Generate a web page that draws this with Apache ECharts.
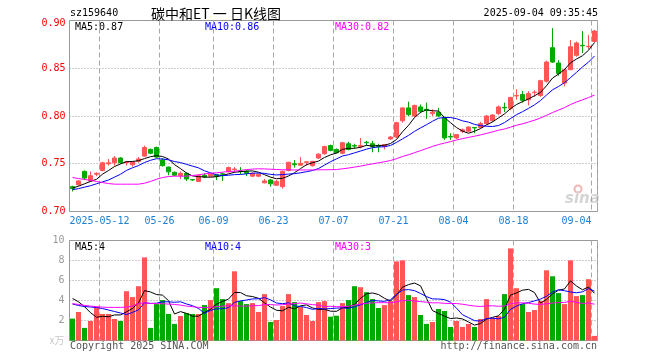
<!DOCTYPE html>
<html><head><meta charset="utf-8">
<script src="https://cdn.jsdelivr.net/npm/echarts@6/dist/echarts.min.js"></script>
<style>html,body{margin:0;padding:0;background:#fff}#c{width:660px;height:360px}</style>
</head><body><div id="c"></div>
<script>
const dates = ['2025-04-30','2025-05-06','2025-05-07','2025-05-08','2025-05-09','2025-05-12','2025-05-13','2025-05-14','2025-05-15','2025-05-16',
'2025-05-19','2025-05-20','2025-05-21','2025-05-22','2025-05-23','2025-05-26','2025-05-27','2025-05-28','2025-05-29','2025-05-30',
'2025-06-03','2025-06-04','2025-06-05','2025-06-06','2025-06-09','2025-06-10','2025-06-11','2025-06-12','2025-06-13','2025-06-16',
'2025-06-17','2025-06-18','2025-06-19','2025-06-20','2025-06-23','2025-06-24','2025-06-25','2025-06-26','2025-06-27','2025-06-30',
'2025-07-01','2025-07-02','2025-07-03','2025-07-04','2025-07-07','2025-07-08','2025-07-09','2025-07-10','2025-07-11','2025-07-14',
'2025-07-15','2025-07-16','2025-07-17','2025-07-18','2025-07-21','2025-07-22','2025-07-23','2025-07-24','2025-07-25','2025-07-28',
'2025-07-29','2025-07-30','2025-07-31','2025-08-01','2025-08-04','2025-08-05','2025-08-06','2025-08-07','2025-08-08','2025-08-11',
'2025-08-12','2025-08-13','2025-08-14','2025-08-15','2025-08-18','2025-08-19','2025-08-20','2025-08-21','2025-08-22','2025-08-25',
'2025-08-26','2025-08-27','2025-08-28','2025-08-29','2025-09-01','2025-09-02','2025-09-03','2025-09-04'];

const tickDates = ['2025-05-12','2025-05-26','2025-06-09','2025-06-23','2025-07-07','2025-07-21','2025-08-04','2025-08-18','2025-09-04'];
const tickLabels = ['2025-05-12','05-26','06-09','06-23','07-07','07-21','08-04','08-18','09-04'];
const priceTicks = [0.70, 0.75, 0.80, 0.85, 0.90];
const volTicks = [0, 2, 4, 6, 8, 10];

const open = [0.726,0.728,0.742,0.732,0.739,0.743,0.750,0.751,0.756,0.751,
0.749,0.7525,0.758,0.765,0.767,0.754,0.7465,0.741,0.7375,0.740,
0.7335,0.7315,0.738,0.737,0.7385,0.7395,0.7415,0.744,0.7425,0.742,
0.737,0.737,0.730,0.733,0.7275,0.726,0.743,0.750,0.7485,0.7515,
0.748,0.756,0.7605,0.769,0.765,0.761,0.771,0.769,0.768,0.7725,
0.771,0.769,0.768,0.776,0.778,0.795,0.8085,0.800,0.8095,0.807,
0.8025,0.804,0.7985,0.7785,0.777,0.784,0.784,0.788,0.788,0.792,
0.795,0.8025,0.809,0.808,0.821,0.8225,0.817,0.8245,0.8215,0.8365,
0.8715,0.8555,0.8345,0.8485,0.8635,0.874,0.8725,0.878];
const close = [0.724,0.732,0.735,0.7375,0.740,0.751,0.751,0.756,0.751,0.752,
0.752,0.755,0.767,0.761,0.757,0.748,0.7415,0.738,0.740,0.734,
0.733,0.7375,0.736,0.739,0.737,0.739,0.746,0.7445,0.742,0.740,
0.740,0.739,0.732,0.729,0.7315,0.742,0.7515,0.749,0.7505,0.752,
0.7525,0.760,0.768,0.764,0.7615,0.772,0.765,0.7685,0.769,0.772,
0.768,0.768,0.770,0.778,0.793,0.8085,0.8015,0.811,0.805,0.806,
0.804,0.800,0.777,0.778,0.7805,0.7855,0.7885,0.7875,0.792,0.800,
0.801,0.8095,0.8085,0.8195,0.8215,0.8165,0.8235,0.825,0.837,0.8565,
0.8565,0.8445,0.8485,0.8725,0.8765,0.8735,0.873,0.889];
const low = [0.721,0.727,0.733,0.731,0.737,0.742,0.748,0.748,0.750,0.748,
0.747,0.751,0.757,0.760,0.756,0.747,0.738,0.737,0.734,0.732,
0.732,0.731,0.735,0.736,0.733,0.732,0.741,0.741,0.739,0.737,
0.736,0.736,0.7295,0.726,0.727,0.724,0.742,0.746,0.748,0.748,
0.747,0.755,0.7595,0.763,0.761,0.760,0.764,0.766,0.766,0.769,
0.762,0.762,0.765,0.775,0.777,0.793,0.800,0.799,0.803,0.797,
0.800,0.799,0.775,0.775,0.776,0.782,0.783,0.782,0.787,0.791,
0.794,0.801,0.804,0.806,0.817,0.814,0.811,0.820,0.820,0.835,
0.8555,0.842,0.831,0.848,0.862,0.866,0.870,0.877];
const high = [0.727,0.733,0.743,0.742,0.741,0.752,0.755,0.758,0.757,0.753,
0.752,0.757,0.769,0.766,0.768,0.756,0.747,0.742,0.742,0.741,
0.734,0.739,0.740,0.740,0.739,0.741,0.747,0.7465,0.7465,0.743,
0.741,0.740,0.734,0.734,0.733,0.743,0.752,0.754,0.757,0.7525,
0.753,0.761,0.769,0.770,0.766,0.773,0.773,0.771,0.777,0.774,
0.774,0.771,0.770,0.779,0.794,0.809,0.815,0.812,0.812,0.814,
0.807,0.8085,0.799,0.782,0.781,0.787,0.789,0.788,0.794,0.801,
0.802,0.811,0.814,0.820,0.828,0.826,0.826,0.827,0.838,0.858,
0.892,0.8585,0.849,0.8795,0.878,0.889,0.885,0.890];

const volume = [2.19,2.85,1.26,1.95,3.38,2.65,2.65,2.15,1.95,4.93,
4.34,5.43,8.31,1.26,3.64,4.04,2.65,1.66,2.45,2.75,
2.65,2.65,3.54,4.04,5.23,4.14,3.74,6.92,3.94,3.64,
3.74,2.85,4.64,1.85,2.05,3.44,4.64,3.84,3.34,2.55,
1.95,3.84,3.94,2.38,2.48,3.74,4.04,5.43,5.33,4.83,
4.14,3.25,3.54,3.94,7.91,8.01,4.54,4.34,2.55,1.66,
1.85,3.15,2.95,1.36,1.95,1.36,1.66,1.36,2.15,4.14,
2.25,2.45,4.64,9.21,5.23,3.64,2.85,3.05,3.94,7.02,
6.42,4.74,3.64,8.01,4.44,4.54,6.13,0.46];

const ma5 = [0.7245,0.7265,0.729,0.7315,0.7337,0.7391,0.7429,0.7471,0.7498,0.7522,
0.7524,0.7532,0.7554,0.7574,0.7584,0.7576,0.7549,0.7491,0.7449,0.7403,
0.7373,0.7365,0.7361,0.7359,0.7365,0.7377,0.7394,0.7411,0.7417,0.7423,
0.7425,0.7411,0.7386,0.736,0.7343,0.7347,0.7372,0.7406,0.7449,0.749,
0.7511,0.7528,0.7566,0.7593,0.7612,0.7651,0.7661,0.7662,0.7672,0.7693,
0.7685,0.7691,0.7694,0.7712,0.7754,0.7835,0.7902,0.7984,0.8038,0.8064,
0.8055,0.8052,0.7984,0.793,0.7879,0.7842,0.7819,0.784,0.7868,0.7907,
0.7938,0.798,0.8022,0.8077,0.812,0.8151,0.8179,0.8212,0.8247,0.8317,
0.8397,0.8439,0.8486,0.8557,0.8597,0.8631,0.8688,0.8769];
const ma10 = [0.7228,0.724,0.7255,0.727,0.729,0.731,0.733,0.736,0.739,0.743,
0.7458,0.7481,0.7513,0.7536,0.7553,0.755,0.7541,0.7523,0.7512,0.7494,
0.7475,0.7457,0.7426,0.7404,0.7384,0.7375,0.738,0.7386,0.7388,0.7394,
0.7401,0.7403,0.7399,0.7389,0.7383,0.7386,0.7392,0.7396,0.7405,0.7417,
0.7429,0.745,0.7486,0.7521,0.7551,0.7581,0.7595,0.7614,0.7633,0.7653,
0.7668,0.7676,0.7678,0.7692,0.7724,0.776,0.7797,0.7839,0.7875,0.7909,
0.7945,0.7977,0.7984,0.7984,0.7972,0.7949,0.7936,0.7912,0.7899,0.7893,
0.789,0.79,0.7931,0.7973,0.8014,0.8045,0.808,0.8117,0.8162,0.8219,
0.8274,0.8309,0.8349,0.8402,0.8457,0.8514,0.8564,0.8628];
const ma30 = [0.7356,0.7345,0.7335,0.7328,0.7314,0.7303,0.7293,0.7286,0.7286,0.7286,
0.7286,0.7286,0.7296,0.7314,0.7338,0.7356,0.7366,0.737,0.737,0.737,
0.7377,0.7384,0.7394,0.7401,0.7405,0.7412,0.7419,0.7422,0.743,0.7439,
0.7444,0.7447,0.7446,0.7443,0.744,0.7437,0.7437,0.7435,0.7435,0.7435,
0.7435,0.7437,0.7437,0.7438,0.7439,0.7447,0.7455,0.7465,0.7475,0.7488,
0.7499,0.751,0.7521,0.7534,0.7553,0.7576,0.7594,0.7616,0.7637,0.7659,
0.7681,0.7701,0.7716,0.7732,0.7749,0.7763,0.7776,0.7788,0.7802,0.7818,
0.7834,0.7851,0.7864,0.7883,0.7903,0.7918,0.7937,0.7956,0.7979,0.8007,
0.8036,0.8062,0.8088,0.812,0.8147,0.8169,0.8193,0.8219];

const vma5 = [4.2,3.87,3.38,2.78,2.326,2.418,2.378,2.556,2.556,2.866,
3.204,3.76,4.992,4.854,4.596,4.536,3.98,2.65,2.888,2.71,
2.432,2.432,2.808,3.126,3.622,3.92,4.138,4.814,4.794,4.476,
4.396,4.218,3.762,3.344,3.026,2.966,3.324,3.164,3.462,3.562,
3.264,3.104,3.124,2.932,2.918,3.276,3.316,3.614,4.204,4.674,
4.754,4.596,4.218,3.94,4.556,5.33,5.588,5.748,5.47,4.22,
2.988,2.71,2.432,2.194,2.252,2.154,1.856,1.538,1.696,2.134,
2.312,2.47,3.126,4.538,4.756,5.034,5.114,4.796,3.742,4.1,
4.656,5.034,5.152,5.966,5.45,5.074,5.352,4.716];
const vma10 = [3.65,3.5,3.4,3.35,3.3,3.2,3.05,2.9,2.75,2.596,
2.811,3.069,3.774,3.705,3.731,3.87,3.87,3.821,3.871,3.653,
3.484,3.206,2.729,3.007,3.166,3.176,3.285,3.811,3.96,4.049,
4.158,4.178,4.288,4.069,3.751,3.681,3.771,3.463,3.403,3.294,
3.115,3.214,3.144,3.197,3.24,3.27,3.21,3.369,3.568,3.796,
4.015,3.956,3.916,4.072,4.615,5.042,5.092,4.983,4.705,4.388,
4.159,4.149,4.09,3.832,3.236,2.571,2.283,1.985,1.945,2.193,
2.233,2.163,2.332,3.117,3.445,3.673,3.792,3.961,4.14,4.428,
4.845,5.074,4.974,4.854,4.775,4.865,5.193,4.934];
const vma30 = [3.68,3.61,3.51,3.44,3.38,3.34,3.31,3.31,3.31,3.34,
3.44,3.71,3.77,3.71,3.68,3.68,3.64,3.61,3.54,3.44,
3.38,3.31,3.28,3.31,3.38,3.44,3.48,3.47,3.45,3.433,
3.484,3.484,3.597,3.594,3.549,3.576,3.642,3.698,3.745,3.665,
3.586,3.533,3.387,3.424,3.386,3.376,3.422,3.548,3.644,3.713,
3.763,3.783,3.783,3.779,3.869,3.998,4.024,3.938,3.892,3.826,
3.763,3.773,3.717,3.7,3.697,3.628,3.528,3.446,3.406,3.459,
3.469,3.423,3.446,3.674,3.765,3.762,3.722,3.643,3.597,3.67,
3.746,3.795,3.799,3.934,3.819,3.703,3.756,3.627];

const UP = '#ff5555', DOWN = '#00aa00';
const MONO = '"DejaVu Sans Mono", "Liberation Mono", monospace';
const isTick = (idx) => tickDates.indexOf(dates[idx]) >= 0;

const chart = echarts.init(document.getElementById('c'), null, {renderer: 'canvas'});

function catAxis(gi, showLabel) {
  return {
    type: 'category', gridIndex: gi, data: dates, boundaryGap: true,
    axisLine: {show: false}, axisTick: {show: false, interval: isTick},
    axisLabel: {
      show: showLabel, interval: isTick, margin: 5,
      fontFamily: MONO, fontSize: 10, color: '#1a7fd6',
      formatter: function (v) {
        const k = tickDates.indexOf(v);
        const t = k >= 0 ? tickLabels[k] : '';
        return k === tickDates.length - 1 ? '{r|' + t + '}' : '{c|' + t + '}';
      },
      rich: {
        c: {padding: [0, 6, 0, 0], fontFamily: MONO, fontSize: 10, color: '#1a7fd6'},
        r: {padding: [0, 36, 0, 0], fontFamily: MONO, fontSize: 10, color: '#1a7fd6'}
      }
    },
    splitLine: {show: true, interval: isTick, lineStyle: {color: '#a8a8a8', type: [5, 3], width: 1}}
  };
}

function line(name, data, color, xi, yi) {
  return {name, type: 'line', xAxisIndex: xi, yAxisIndex: yi, data, symbol: 'none', silent: true,
    lineStyle: {color, width: 1}, itemStyle: {color}, z: 5};
}

const txt = (text, x, y, color, opts) => ({
  type: 'text', x, y, silent: true,
  style: Object.assign({text, fill: color, font: '10px ' + MONO, align: 'left', verticalAlign: 'middle'}, (opts || {}))
});

const topPrice = priceTicks[priceTicks.length - 1];

const option = {
  animation: false,
  backgroundColor: '#ffffff',
  grid: [
    {left: 69.5, top: 20.5, width: 528, height: 191, show: true, borderColor: '#999', borderWidth: 1},
    {left: 69.5, top: 240.5, width: 528, height: 100, show: true, borderColor: '#999', borderWidth: 1}
  ],
  xAxis: [catAxis(0, true), catAxis(1, false)],
  yAxis: [
    {type: 'value', gridIndex: 0, min: priceTicks[0], max: topPrice,
      interval: priceTicks[1] - priceTicks[0],
      axisLine: {show: false}, axisTick: {show: false},
      axisLabel: {color: '#ff0000', fontFamily: MONO, fontSize: 10, margin: 4,
        formatter: (v) => Math.abs(v - topPrice) < 1e-9 ? '{t|' + v.toFixed(2) + '}' : v.toFixed(2),
        rich: {t: {padding: [6, 0, 0, 0], color: '#ff0000', fontFamily: MONO, fontSize: 10}}},
      splitLine: {lineStyle: {color: '#9a9a9a', type: [1, 2]}}},
    {type: 'value', gridIndex: 1, min: volTicks[0], max: volTicks[volTicks.length - 1],
      interval: volTicks[1] - volTicks[0],
      axisLine: {show: false}, axisTick: {show: false},
      axisLabel: {color: '#999', fontFamily: MONO, fontSize: 10, margin: 5,
        formatter: (v) => v === 0 ? '{u|x万}' : String(v),
        rich: {u: {color: '#c8c8c8', fontFamily: '"Noto Sans CJK SC", sans-serif', fontSize: 10}}},
      splitLine: {lineStyle: {color: '#9a9a9a', type: [1, 2]}}}
  ],
  series: [
    {type: 'candlestick', xAxisIndex: 0, yAxisIndex: 0, barWidth: 4, silent: true,
      data: dates.map((d, i) => [open[i], close[i], low[i], high[i]]),
      itemStyle: {color: UP, color0: DOWN, borderColor: UP, borderColor0: DOWN, borderWidth: 1}},
    line('MA5', ma5, '#000000', 0, 0),
    line('MA10', ma10, '#0000ff', 0, 0),
    line('MA30', ma30, '#ff00ff', 0, 0),
    {type: 'bar', xAxisIndex: 1, yAxisIndex: 1, barWidth: 5, silent: true,
      data: volume,
      itemStyle: {color: (p) => close[p.dataIndex] >= open[p.dataIndex] ? UP : DOWN}},
    line('VMA5', vma5, '#000000', 1, 1),
    line('VMA10', vma10, '#0000ff', 1, 1),
    line('VMA30', vma30, '#ff00ff', 1, 1)
  ],
  graphic: [
    txt('sz159640', 70, 13, '#000'),
    txt('碳中和ET 一 日K线图', 151, 14, '#000', {font: '14px "Noto Sans CJK SC", sans-serif'}),
    txt('2025-09-04 09:35:45', 598, 13, '#000', {align: 'right'}),
    txt('MA5:0.87', 75, 27, '#000'),
    txt('MA10:0.86', 205, 27, '#0000ff'),
    txt('MA30:0.82', 335, 27, '#ff00ff'),
    txt('MA5:4', 75, 247, '#000'),
    txt('MA10:4', 205, 247, '#0000ff'),
    txt('MA30:3', 335, 247, '#ff00ff'),
    txt('Copyright 2025 SINA.COM', 70, 346, '#555'),
    txt('http://finance.sina.com.cn', 597, 346, '#555', {align: 'right'}),
    {type: 'circle', silent: true, shape: {cx: 578, cy: 189, r: 3.5},
      style: {fill: 'none', stroke: '#f2b5b5', lineWidth: 2}},
    txt('sina', 565, 199, '#d4d4d4', {font: 'italic bold 15px "DejaVu Sans", sans-serif'})
  ]
};
chart.setOption(option);
</script>
</body></html>
